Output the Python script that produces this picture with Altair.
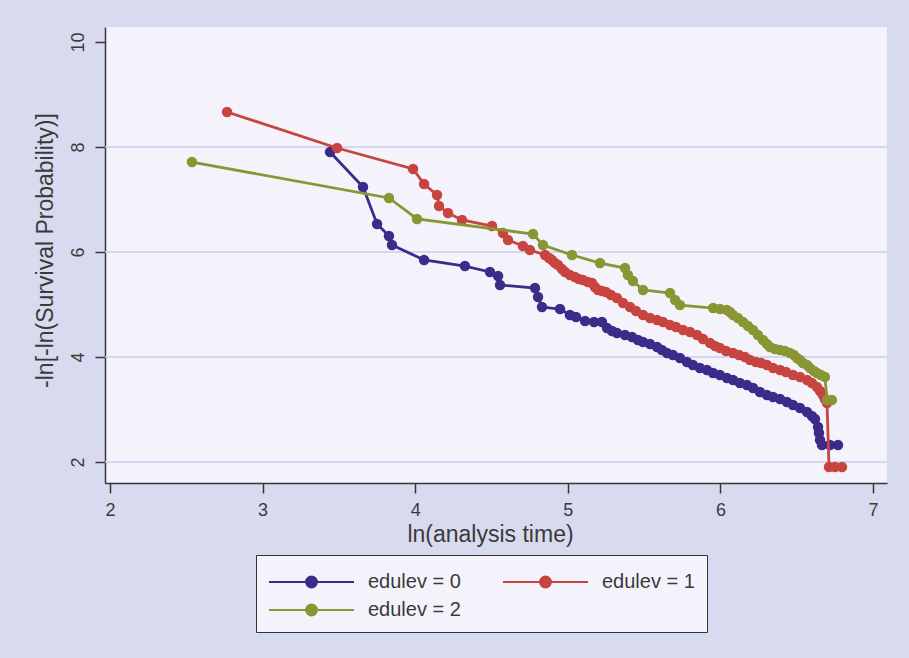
import altair as alt
import pandas as pd

series_names = ["edulev = 0", "edulev = 1", "edulev = 2"]
series_colors = ["#3d2b8a", "#c8443f", "#8a9634"]

# edulev = 0
x0 = [3.442, 3.658, 3.750, 3.828, 3.848, 4.058, 4.326, 4.490, 4.543, 4.556,
      4.785, 4.805, 4.831, 4.949, 5.014, 5.054, 5.113, 5.172, 5.224, 5.257,
      5.290, 5.322, 5.375, 5.421, 5.460, 5.493, 5.539, 5.585, 5.617, 5.650,
      5.689, 5.735, 5.781, 5.820, 5.866, 5.912, 5.952, 5.997, 6.043, 6.083,
      6.128, 6.174, 6.214, 6.259, 6.305, 6.345, 6.391, 6.436, 6.476, 6.522,
      6.568, 6.600, 6.620, 6.640, 6.646, 6.653, 6.666, 6.718, 6.771]
y0 = [7.905, 7.238, 6.533, 6.305, 6.133, 5.848, 5.733, 5.619, 5.543, 5.371,
      5.314, 5.143, 4.952, 4.914, 4.800, 4.762, 4.686, 4.667, 4.667, 4.552,
      4.495, 4.457, 4.419, 4.381, 4.324, 4.286, 4.248, 4.190, 4.133, 4.076,
      4.038, 3.981, 3.905, 3.848, 3.790, 3.752, 3.695, 3.657, 3.600, 3.562,
      3.505, 3.467, 3.410, 3.333, 3.276, 3.238, 3.200, 3.143, 3.086, 3.029,
      2.952, 2.876, 2.819, 2.667, 2.552, 2.419, 2.324, 2.324, 2.324]

# edulev = 1
x1 = [2.767, 3.488, 3.986, 4.058, 4.143, 4.156, 4.215, 4.307, 4.503, 4.575,
      4.608, 4.706, 4.752, 4.851, 4.877, 4.896, 4.916, 4.936, 4.962, 4.982,
      5.014, 5.047, 5.073, 5.100, 5.132, 5.159, 5.178, 5.198, 5.224, 5.250,
      5.283, 5.322, 5.362, 5.408, 5.447, 5.493, 5.539, 5.585, 5.624, 5.670,
      5.709, 5.755, 5.801, 5.847, 5.886, 5.932, 5.965, 5.997, 6.037, 6.083,
      6.122, 6.161, 6.194, 6.233, 6.266, 6.305, 6.345, 6.391, 6.430, 6.476,
      6.522, 6.568, 6.600, 6.633, 6.653, 6.672, 6.685, 6.699, 6.712, 6.751,
      6.797]
y1 = [8.667, 7.981, 7.581, 7.295, 7.086, 6.876, 6.743, 6.610, 6.495, 6.362,
      6.229, 6.114, 6.038, 5.943, 5.886, 5.848, 5.790, 5.752, 5.676, 5.619,
      5.562, 5.524, 5.486, 5.467, 5.429, 5.410, 5.333, 5.276, 5.257, 5.238,
      5.181, 5.124, 5.029, 4.952, 4.876, 4.800, 4.743, 4.705, 4.667, 4.610,
      4.571, 4.514, 4.476, 4.419, 4.343, 4.267, 4.210, 4.171, 4.114, 4.076,
      4.038, 4.000, 3.943, 3.905, 3.886, 3.848, 3.790, 3.752, 3.714, 3.657,
      3.619, 3.562, 3.505, 3.429, 3.352, 3.276, 3.200, 3.124, 1.905, 1.905,
      1.905]

# edulev = 2
x2 = [2.537, 3.828, 4.012, 4.772, 4.837, 5.027, 5.211, 5.375, 5.394, 5.427,
      5.493, 5.670, 5.703, 5.735, 5.952, 5.997, 6.043, 6.063, 6.083, 6.115,
      6.148, 6.181, 6.214, 6.246, 6.279, 6.305, 6.325, 6.358, 6.391, 6.423,
      6.456, 6.482, 6.502, 6.522, 6.541, 6.568, 6.587, 6.613, 6.633, 6.659,
      6.685, 6.699, 6.731]
y2 = [7.714, 7.029, 6.629, 6.343, 6.133, 5.943, 5.790, 5.695, 5.562, 5.448,
      5.276, 5.219, 5.086, 4.990, 4.933, 4.914, 4.895, 4.857, 4.800, 4.743,
      4.667, 4.590, 4.514, 4.419, 4.324, 4.248, 4.190, 4.152, 4.133, 4.114,
      4.076, 4.038, 3.981, 3.943, 3.886, 3.848, 3.790, 3.733, 3.695, 3.657,
      3.619, 3.181, 3.181]

x_ticks = [2, 3, 4, 5, 6, 7]
y_ticks = [2, 4, 6, 8, 10]
grid_y = [2, 4, 6, 8]

x_title = "ln(analysis time)"
y_title = "-ln[-ln(Survival Probability)]"

rows = []
for name, xs, ys in zip(series_names, [x0, x1, x2], [y0, y1, y2]):
    assert len(xs) == len(ys)
    for i, (xv, yv) in enumerate(zip(xs, ys)):
        rows.append({"series": name, "lnt": xv, "lls": yv, "idx": i})
df = pd.DataFrame(rows)
grid_df = pd.DataFrame({"g": grid_y})

FONT = "Liberation Sans"
TEXT = "#3a3a3a"
AXIS = "#3a3438"
OUTER_BG = "#d8daef"
PLOT_BG = "#f4f3fb"
GRID = "#cdcdee"

xscale = alt.Scale(domain=[1.967, 7.092], nice=False, zero=False)
yscale = alt.Scale(domain=[1.6, 10.286], nice=False, zero=False)

x_axis = alt.Axis(values=x_ticks, grid=False, tickSize=10, labelPadding=8,
                  titlePadding=4, format="d", labelFontSize=18,
                  titleFontSize=23, titleX=385, titleAlign="center")
y_axis = alt.Axis(values=y_ticks, grid=False, tickSize=10, labelAngle=270,
                  labelAlign="center", labelBaseline="bottom", labelPadding=8,
                  titlePadding=12, format="d", labelFontSize=18,
                  titleFontSize=23, titleY=223, titleAlign="center")

x_enc = alt.X("lnt:Q", scale=xscale, title=x_title, axis=x_axis)
y_enc = alt.Y("lls:Q", scale=yscale, title=y_title, axis=y_axis)

legend_symbol = ("M-1,0L5.071,0M1.643,0A0.393,0.393,0,1,1,2.429,0"
                 "A0.393,0.393,0,1,1,1.643,0Z")
color_enc = alt.Color(
    "series:N",
    scale=alt.Scale(domain=series_names, range=series_colors),
    legend=alt.Legend(
        title=None, orient="none", legendX=151, legendY=528, columns=2,
        direction="horizontal",
        symbolType=legend_symbol, symbolSize=784, symbolStrokeWidth=2,
        symbolOpacity=1, labelFont=FONT, labelFontSize=20, labelColor=TEXT,
        labelOffset=70, columnPadding=38, rowPadding=3, padding=12,
        fillColor=PLOT_BG, strokeColor="#333333",
    ),
)

grid = alt.Chart(grid_df).mark_rule(color=GRID, strokeWidth=1.5).encode(
    y=alt.Y("g:Q", scale=yscale, title=y_title, axis=y_axis)
)

layers = [grid]
for name in series_names:
    sub = alt.Chart(df).transform_filter(alt.datum.series == name)
    layers.append(sub.mark_line(strokeWidth=2.8).encode(
        x=x_enc, y=y_enc, color=color_enc, order="idx:Q"))
    layers.append(sub.mark_circle(size=110, opacity=1).encode(
        x=x_enc, y=y_enc, color=color_enc))

chart = alt.layer(*layers).properties(
    width=782, height=456,
    background=OUTER_BG,
    autosize=alt.AutoSizeParams(type="none"),
    padding={"left": 105, "top": 27, "right": 22, "bottom": 175},
).configure_view(
    fill=PLOT_BG, strokeWidth=0
).configure_axis(
    domainColor=AXIS, tickColor=AXIS, domainWidth=1.5, tickWidth=1.5,
    labelFont=FONT, labelColor=TEXT,
    titleFont=FONT, titleColor=TEXT, titleFontWeight="normal",
)

chart.save("out.html", embed_options={"renderer": "svg", "actions": False})
